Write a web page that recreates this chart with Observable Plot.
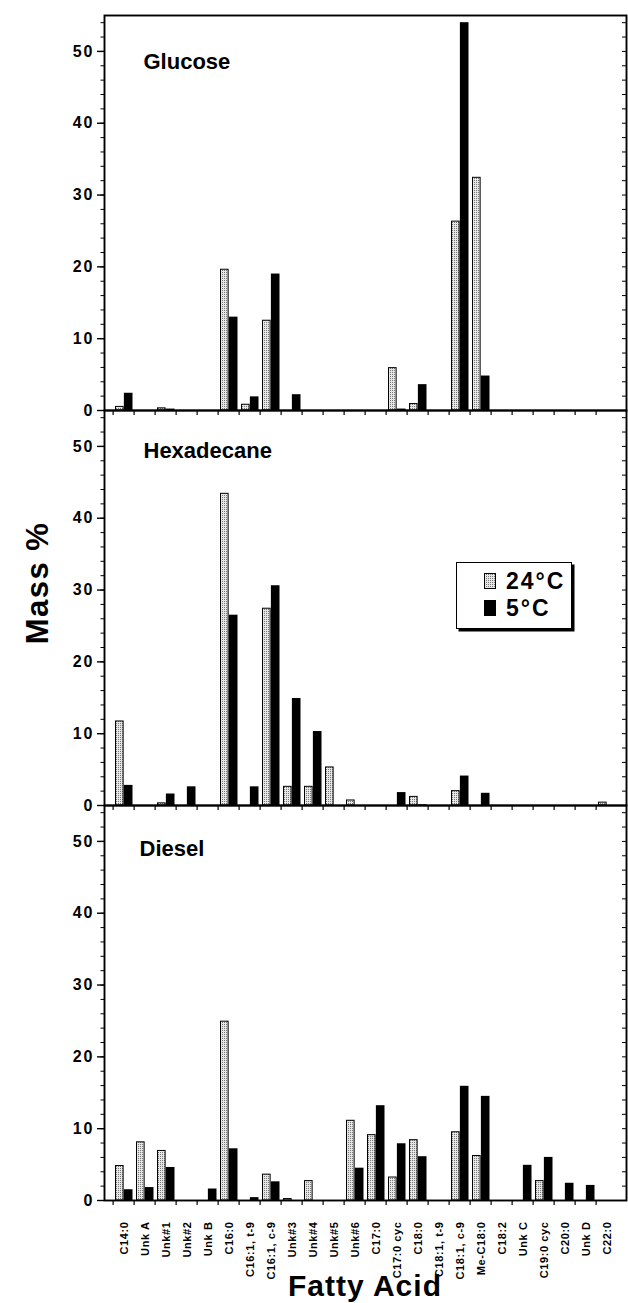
<!DOCTYPE html>
<html><head><meta charset="utf-8">
<script src="https://cdn.jsdelivr.net/npm/d3@7"></script>
<script src="https://cdn.jsdelivr.net/npm/@observablehq/plot@0.6"></script>
<style>
body{margin:0;background:#fff;}
#wrap{position:relative;width:628px;height:1303px;font-family:"Liberation Sans",Arial,Helvetica,sans-serif;font-weight:bold;color:#000;overflow:hidden;}
#wrap svg{font-family:"Liberation Sans",Arial,Helvetica,sans-serif;font-weight:bold;background:#fff;}
g[aria-label="y-axis tick label"] text{letter-spacing:2px;}
g[aria-label="x-axis tick label"] text{letter-spacing:0.6px;}
g[aria-label="panel title"] text{letter-spacing:2px;}
.ax{position:absolute;white-space:nowrap;line-height:1;}
#legend{position:absolute;left:456px;top:562px;width:114px;height:65px;border:1.5px solid #000;box-shadow:2.5px 2.5px 0 #000;background:#fff;}
#legend .row{position:absolute;left:27px;height:20px;display:flex;align-items:center;}
#legend .sw{width:12px;height:16px;box-sizing:border-box;border:1px solid #000;margin-right:10px;}
#legend .lt{font-size:23px;letter-spacing:2px;line-height:20px;}
</style>
</head><body>
<div id="wrap"></div>
<script>
const categories = ["C14:0","Unk A","Unk#1","Unk#2","Unk B","C16:0","C16:1, t-9","C16:1, c-9","Unk#3","Unk#4","Unk#5","Unk#6","C17:0","C17:0 cyc","C18:0","C18:1, t-9","C18:1, c-9","Me-C18:0","C18:2","Unk C","C19:0 cyc","C20:0","Unk D","C22:0"];
const panels = ["Glucose","Hexadecane","Diesel"];
const temps = ["24°C","5°C"];

const glucose24 = [0.5,0,0.3,0,0,19.6,0.8,12.5,0,0,0,0,0,5.9,0.9,0,26.3,32.4,0,0,0,0,0,0];
const glucose5  = [2.4,0,0.2,0,0,13.0,1.9,19.0,2.2,0,0,0,0,0.2,3.6,0,54.0,4.8,0,0,0,0,0,0];
const hexadecane24 = [11.7,0,0.3,0,0,43.4,0,27.4,2.6,2.6,5.3,0.7,0,0,1.2,0,2.0,0,0,0,0,0,0,0.4];
const hexadecane5  = [2.8,0,1.6,2.6,0,26.5,2.6,30.6,14.9,10.3,0,0,0,1.8,0.1,0,4.1,1.7,0,0,0,0,0,0];
const diesel24 = [4.8,8.1,6.9,0,0,24.9,0,3.6,0.2,2.7,0,11.1,9.1,3.2,8.4,0,9.5,6.2,0,0,2.7,0,0,0];
const diesel5  = [1.5,1.8,4.6,0,1.6,7.2,0.4,2.6,0,0,0,4.5,13.2,7.9,6.1,0,15.9,14.5,0,4.9,6.0,2.4,2.1,0];

const majorTicks = [0,10,20,30,40,50];
const minorTicks = d3.range(0, 56, 2);

const series = {Glucose:[glucose24,glucose5], Hexadecane:[hexadecane24,hexadecane5], Diesel:[diesel24,diesel5]};
const rows = [];
panels.forEach(p => categories.forEach((c, ci) => {
  temps.forEach((t, ti) => rows.push({panel: p, acid: c, temp: t, value: series[p][ti][ci]}));
}));

const W = 628, H = 1303, ML = 104, MR = 2, MT = 15, MB = 103;
const innerW = W - ML - MR;
const bw = innerW / categories.length;

const titleOffsets = {Glucose:[39,38], Hexadecane:[39,32], Diesel:[35,35]};

const plot = Plot.plot({
  width: W, height: H,
  marginTop: MT, marginBottom: MB, marginLeft: ML, marginRight: MR,
  x: {domain: categories, padding: 0, axis: null},
  y: {domain: [0, 55], axis: null},
  fy: {domain: panels, padding: 0, axis: null},
  marks: [
    Plot.barY(rows.filter(d => d.temp === temps[0] && d.value > 0), {x: "acid", y: "value", fy: "panel", fill: "url(#stipple)", stroke: "#000", strokeWidth: 1, insetLeft: 2.5, insetRight: bw / 2}),
    Plot.barY(rows.filter(d => d.temp === temps[1] && d.value > 0), {x: "acid", y: "value", fy: "panel", fill: "#000", insetLeft: bw / 2, insetRight: 1.5}),
    Plot.frame({stroke: "#000", strokeWidth: 1.9}),
    Plot.axisY({ticks: majorTicks, tickSize: 7, tickPadding: 3, fontSize: 16, strokeWidth: 1.4, label: null}),
    Plot.axisY({ticks: minorTicks, tickSize: 3.5, tickFormat: () => "", strokeWidth: 1, label: null}),
    Plot.tickY(minorTicks, {y: d => d, insetLeft: innerW - 4, stroke: "#000", strokeWidth: 1}),
    Plot.axisX({ticks: categories, tickSize: 5, tickFormat: () => "", dx: -bw / 2, facetAnchor: null, strokeWidth: 1.2, label: null}),
    Plot.axisX({tickSize: 0, tickRotate: -90, tickPadding: 21, fontSize: 11, label: null}),
    ...panels.map(p => Plot.text([p], {fy: d => d, text: d => d, frameAnchor: "top-left", lineAnchor: "top", dx: titleOffsets[p][0], dy: titleOffsets[p][1], fontSize: 22, ariaLabel: "panel title"}))
  ]
});

const ns = "http://www.w3.org/2000/svg";
const defs = document.createElementNS(ns, "defs");
defs.innerHTML = '<pattern id="stipple" width="2" height="2" patternUnits="userSpaceOnUse"><rect width="2" height="2" fill="#e6e6e6"/><rect width="1" height="1" fill="#777"/></pattern>';
plot.insertBefore(defs, plot.firstChild);

const wrap = document.getElementById("wrap");
wrap.appendChild(plot);

const legend = document.createElement("div");
legend.id = "legend";
temps.forEach((t, i) => {
  const row = document.createElement("div");
  row.className = "row";
  row.style.top = (8 + i * 27) + "px";
  const sw = document.createElement("div");
  sw.className = "sw";
  sw.style.background = i === 0 ? "repeating-conic-gradient(#777 0 25%, #e6e6e6 0 100%) 0 0/2px 2px" : "#000";
  const lt = document.createElement("span");
  lt.className = "lt";
  lt.textContent = t;
  row.appendChild(sw); row.appendChild(lt);
  legend.appendChild(row);
});
wrap.appendChild(legend);

const ylab = document.createElement("div");
ylab.className = "ax";
ylab.textContent = "Mass %";
Object.assign(ylab.style, {left: "37px", top: "583px", fontSize: "31px", letterSpacing: "1.5px", transform: "translate(-50%,-50%) rotate(-90deg)"});
wrap.appendChild(ylab);

const xlab = document.createElement("div");
xlab.className = "ax";
xlab.textContent = "Fatty Acid";
Object.assign(xlab.style, {left: "365px", top: "1271px", fontSize: "30px", letterSpacing: "1px", transform: "translateX(-50%)"});
wrap.appendChild(xlab);
</script>
</body></html>
